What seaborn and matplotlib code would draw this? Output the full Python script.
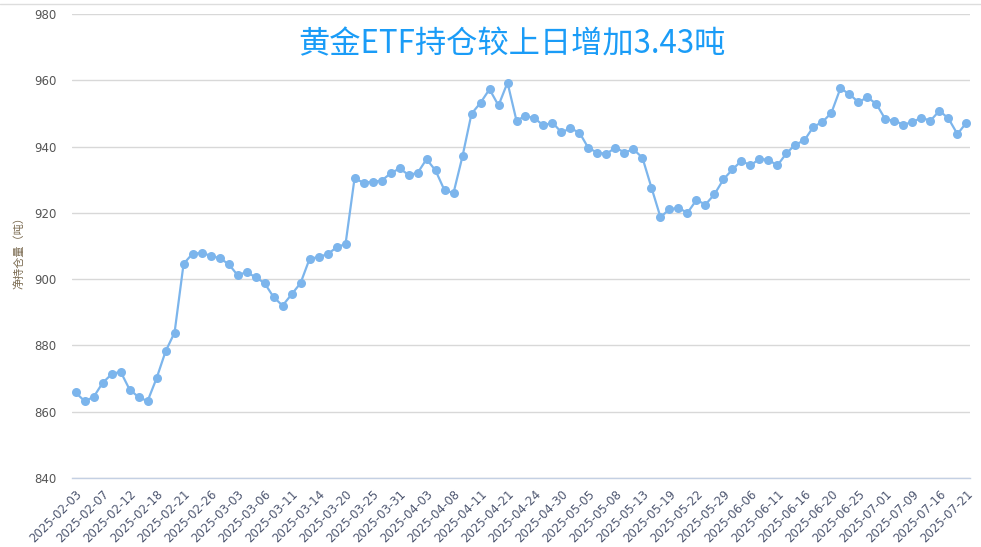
import numpy as np
import pandas as pd
import matplotlib.pyplot as plt
import seaborn as sns
from matplotlib.lines import Line2D

# 黄金ETF净持仓量（吨），交易日顺序
holdings = [865.8, 863.2, 864.4, 868.7, 871.3, 872.1, 866.7, 864.4, 863.2, 870.1,
            878.2, 883.9, 904.6, 907.7, 907.9, 907.1, 906.3, 904.6, 901.2, 902.1,
            900.6, 898.8, 894.6, 892.0, 895.4, 898.8, 906.1, 906.7, 907.5, 909.6,
            910.6, 930.4, 929.1, 929.4, 929.7, 931.9, 933.4, 931.5, 932.0, 936.2,
            932.8, 926.8, 926.0, 937.1, 949.9, 953.2, 957.3, 952.4, 959.3, 947.8,
            949.3, 948.5, 946.4, 947.2, 944.3, 945.5, 944.2, 939.5, 938.2, 937.8,
            939.7, 938.2, 939.2, 936.6, 927.6, 918.7, 921.1, 921.5, 920.0, 923.9,
            922.5, 925.6, 930.1, 933.1, 935.7, 934.3, 936.3, 936.0, 934.3, 938.0,
            940.6, 941.9, 946.0, 947.4, 950.2, 957.6, 955.8, 953.4, 954.9, 952.8,
            948.2, 947.8, 946.6, 947.4, 948.7, 947.8, 950.8, 948.5, 943.77, 947.2]

# 横轴每隔3个交易日显示一个日期
tick_dates = ['2025-02-03', '2025-02-07', '2025-02-12', '2025-02-18', '2025-02-21',
              '2025-02-26', '2025-03-03', '2025-03-06', '2025-03-11', '2025-03-14',
              '2025-03-20', '2025-03-25', '2025-03-31', '2025-04-03', '2025-04-08',
              '2025-04-11', '2025-04-21', '2025-04-24', '2025-04-30', '2025-05-05',
              '2025-05-08', '2025-05-13', '2025-05-19', '2025-05-22', '2025-05-29',
              '2025-06-06', '2025-06-11', '2025-06-16', '2025-06-20', '2025-06-25',
              '2025-07-01', '2025-07-09', '2025-07-16', '2025-07-21']
tick_step = 3

y_ticks = [840, 860, 880, 900, 920, 940, 960, 980]
title = '黄金ETF持仓较上日增加3.43吨'
y_label = '净持仓量（吨）'

sns.set_style('white')
plt.rcParams['font.family'] = ['Noto Sans CJK SC', 'DejaVu Sans']

df = pd.DataFrame({'idx': np.arange(len(holdings)), 'holding': holdings})

fig = plt.figure(figsize=(9.81, 5.47), dpi=100)
ax = fig.add_axes([72 / 981, 1 - 478 / 547, (970 - 72) / 981, (478 - 14) / 547])

sns.lineplot(data=df, x='idx', y='holding', ax=ax, color='#7cb5ec', linewidth=1.6,
             marker='o', markersize=6.5, markeredgewidth=0, zorder=3)

ax.set_ylim(840, 980)
ax.set_xlim(-0.4, len(holdings) - 0.6)
ax.set_yticks(y_ticks)
ax.set_yticklabels([str(v) for v in y_ticks], fontsize=8.5, color='#555555',
                   family='DejaVu Sans')
ax.grid(axis='y', color='#d8d8d8', linewidth=1)
ax.set_axisbelow(True)

pos = np.arange(0, len(holdings), tick_step)
ax.set_xticks(pos)
ax.set_xticklabels(tick_dates, rotation=45, ha='right', rotation_mode='anchor',
                   fontsize=8.5, color='#4d5670', family='DejaVu Sans')
ax.tick_params(axis='x', length=5, width=1, color='#c4d0e3', pad=2)
ax.tick_params(axis='y', length=0, pad=11)

for s in ['top', 'right', 'left']:
    ax.spines[s].set_visible(False)
ax.spines['bottom'].set_color('#c4d0e3')
ax.spines['bottom'].set_linewidth(1)

ax.set_xlabel('')
ax.set_ylabel('')
fig.text(19 / 981, 1 - 250 / 547, y_label, rotation=90, ha='center', va='center',
         fontsize=8, color='#7a6a50')

ax.text(0.49, 0.935, title, transform=ax.transAxes, ha='center', va='center',
        fontsize=22.5, color='#1a9cf7')

fig.add_artist(Line2D([0, 1], [1 - 4 / 547, 1 - 4 / 547], color='#dddddd',
                      linewidth=1, transform=fig.transFigure))

fig.savefig('out.png', dpi=100, facecolor='white')
